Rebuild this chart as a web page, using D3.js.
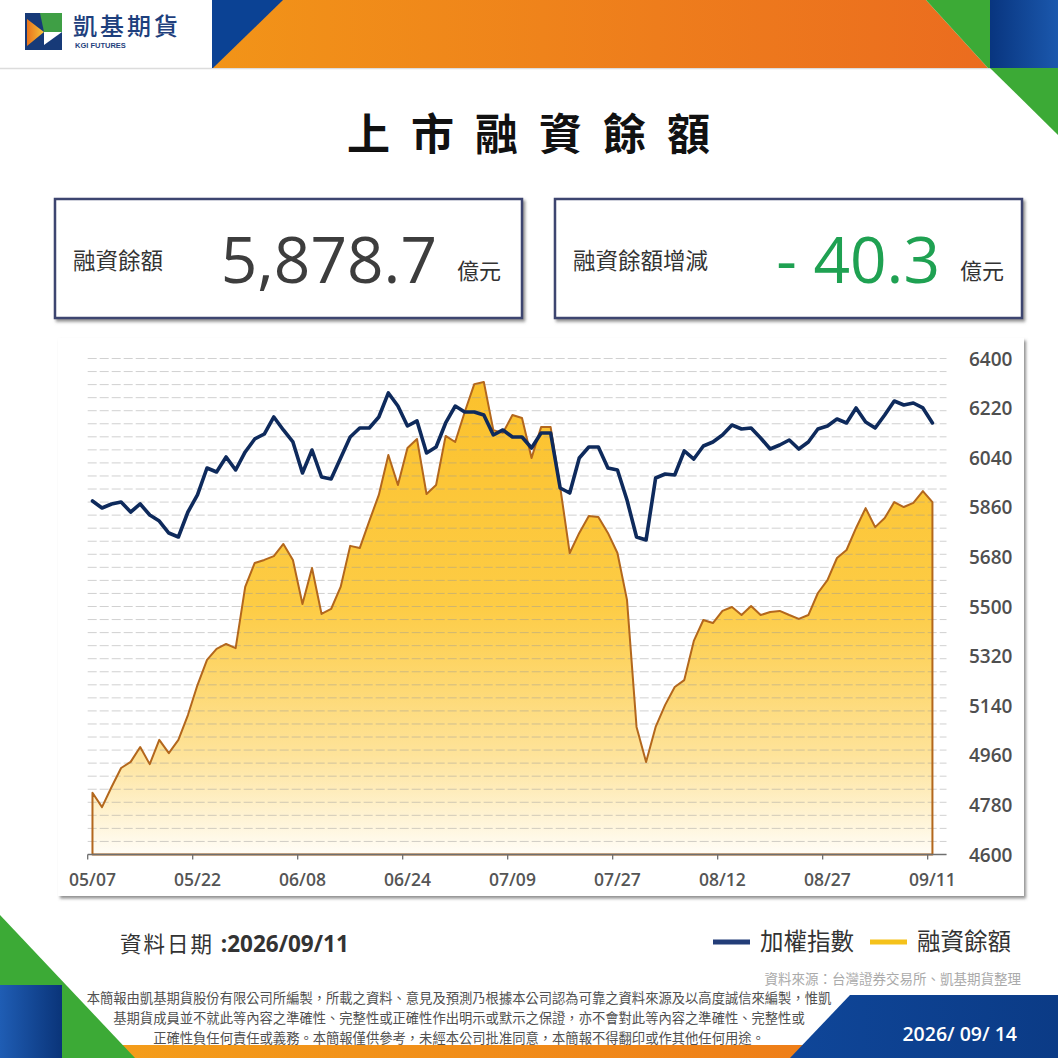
<!DOCTYPE html>
<html><head><meta charset="utf-8">
<script src="https://cdn.jsdelivr.net/npm/d3@7"></script>
<style>
html,body{margin:0;padding:0;background:#fff;}
svg{display:block;}
</style></head><body>
<svg id="c" width="1058" height="1058"></svg>
<script>
// ---------------- DATA ----------------
const dates = ["05/07","05/08","05/11","05/12","05/13","05/14","05/15","05/18","05/19","05/20","05/21","05/22","05/25","05/26","05/27","05/28","05/29",
"06/01","06/02","06/03","06/04","06/05","06/08","06/09","06/10","06/11","06/12","06/15","06/16","06/17","06/18","06/22","06/23","06/24","06/25","06/26","06/29","06/30",
"07/01","07/02","07/03","07/06","07/07","07/08","07/09","07/10","07/13","07/14","07/15","07/17","07/20","07/21","07/22","07/23","07/24","07/27","07/28","07/29","07/30","07/31",
"08/03","08/04","08/06","08/07","08/10","08/11","08/12","08/13","08/14","08/17","08/18","08/19","08/20","08/21","08/24","08/25","08/26","08/27","08/28","08/31",
"09/01","09/02","09/03","09/04","09/07","09/08","09/09","09/10","09/11"];

// 加權指數 (hidden left axis)
const indexValues = [24817,24709,24771,24801,24648,24771,24602,24510,24326,24265,24648,24909,25322,25261,25491,25292,25568,25767,25843,26104,25905,25721,25246,25598,25184,25154,25476,25797,25935,25935,26104,26472,26272,25966,26043,25552,25644,26012,26272,26180,26180,26134,25828,25905,25797,25797,25629,25859,25859,25016,24939,25476,25644,25644,25322,25292,24832,24265,24219,25169,25230,25215,25583,25460,25659,25721,25828,25981,25920,25935,25782,25613,25675,25751,25613,25721,25920,25966,26073,26012,26242,26027,25935,26134,26349,26288,26318,26242,26012];

// 融資餘額 (億元, right axis)
const marginValues = [4824,4772,4845,4914,4936,4990,4928,5016,4968,5016,5106,5215,5306,5346,5364,5349,5571,5658,5669,5683,5727,5669,5509,5640,5473,5491,5571,5720,5712,5810,5905,6050,5941,6075,6108,5908,5941,6119,6097,6206,6307,6315,6140,6130,6195,6184,6039,6151,6151,5934,5694,5767,5828,5825,5767,5694,5524,5063,4936,5063,5143,5208,5233,5375,5451,5440,5484,5498,5469,5502,5469,5480,5484,5469,5455,5469,5549,5596,5676,5705,5785,5857,5788,5821,5879,5861,5876,5919.0,5878.7];

const yTickValues = [4600,4780,4960,5140,5320,5500,5680,5860,6040,6220,6400];
const xTickLabels = ["05/07","05/22","06/08","06/24","07/09","07/27","08/12","08/27","09/11"];
const indexDomain = [19400, 27000];
const indexGridStep = 200;

const titleText = "上市融資餘額";
const seriesNames = ["加權指數","融資餘額"];
const dataDate = "2026/09/11";
const reportDate = "2026/ 09/ 14";

// ---------------- DRAW ----------------
const svg = d3.select("#c");
const W = 1058, H = 1058;
const CJK = "'Noto Sans CJK TC','Noto Sans CJK SC',sans-serif";
const NUM = "'Open Sans','Noto Sans',sans-serif";

const defs = svg.append("defs");
function lg(id, x1, y1, x2, y2, stops, user) {
  const g = defs.append("linearGradient").attr("id", id)
    .attr("x1", x1).attr("y1", y1).attr("x2", x2).attr("y2", y2);
  if (user) g.attr("gradientUnits", "userSpaceOnUse");
  stops.forEach(s => g.append("stop").attr("offset", s[0]).attr("stop-color", s[1]));
}
lg("orangeTop", "0%", "0%", "100%", "0%", [["0%", "#f29418"], ["100%", "#eb6c1f"]]);
lg("blueTop", "0%", "0%", "100%", "0%", [["0%", "#08357f"], ["100%", "#1b58ad"]]);
lg("blueBL", "0%", "0%", "100%", "0%", [["0%", "#1f5db4"], ["100%", "#0a3479"]]);
lg("blueBR", "0%", "0%", "100%", "0%", [["0%", "#0f4699"], ["100%", "#0b3b86"]]);
lg("orangeBot", "0%", "0%", "100%", "0%", [["0%", "#f5a21a"], ["100%", "#ee7d18"]]);
lg("logoOr", "0%", "0%", "100%", "0%", [["0%", "#e8731c"], ["100%", "#f6c43a"]]);

const sh = defs.append("filter").attr("id", "shadow").attr("x", "-5%").attr("y", "-5%").attr("width", "110%").attr("height", "115%");
sh.append("feDropShadow").attr("dx", 2).attr("dy", 2.5).attr("stdDeviation", 1.6)
  .attr("flood-color", "#6a6a6a").attr("flood-opacity", 0.75);

svg.append("rect").attr("width", W).attr("height", H).attr("fill", "#fff");

// header
svg.append("line").attr("x1", 0).attr("x2", W).attr("y1", 68.5).attr("y2", 68.5).attr("stroke", "#dcdcdc").attr("stroke-width", 1.5);
svg.append("polygon").attr("points", "212,0 926,0 988,68 212,68").attr("fill", "url(#orangeTop)");
svg.append("polygon").attr("points", "212,0 283,0 213,68 212,68").attr("fill", "#0b4294");
svg.append("polygon").attr("points", "926,0 990,0 990,68 988,68").attr("fill", "#3caa36");
svg.append("rect").attr("x", 990).attr("y", 0).attr("width", 68).attr("height", 68).attr("fill", "url(#blueTop)");
svg.append("polygon").attr("points", "990,68 1058,68 1058,135").attr("fill", "#3caa36");

// logo
const logo = svg.append("g");
logo.append("rect").attr("x", 25).attr("y", 13).attr("width", 37).attr("height", 37).attr("fill", "#173a78");
logo.append("polygon").attr("points", "40,13 62,13 62,32 44,32").attr("fill", "#3f9f45");
logo.append("polygon").attr("points", "27,19 44,32 27,46").attr("fill", "url(#logoOr)");
logo.append("polygon").attr("points", "44,32 62,32 44,45").attr("fill", "#ffffff");
svg.append("text").attr("x", 73).attr("y", 35).attr("font-family", CJK).attr("font-size", 24)
  .attr("font-weight", 500).attr("letter-spacing", 3).attr("fill", "#1e3f7d").text("凱基期貨");
svg.append("text").attr("x", 75).attr("y", 47.5).attr("font-family", "'Liberation Sans',Arial,sans-serif")
  .attr("font-size", 7.5).attr("font-weight", 700).attr("fill", "#1e3f7d").text("KGI FUTURES");

// title
svg.append("text").attr("x", 539).attr("y", 150).attr("text-anchor", "middle")
  .attr("font-family", CJK).attr("font-size", 43).attr("font-weight", 700)
  .attr("letter-spacing", 21).attr("fill", "#111").text(titleText);

// stat boxes
const latest = marginValues[marginValues.length - 1];
const change = latest - marginValues[marginValues.length - 2];
const boxes = [
  {x: 55, w: 467, label: "融資餘額", value: d3.format(",.1f")(latest), color: "#3d3d3d", vx: 437, ux: 457},
  {x: 555, w: 467, label: "融資餘額增減", value: (change < 0 ? "- " : "+ ") + d3.format(".1f")(Math.abs(change)), color: "#1fa152", vx: 940, ux: 960}
];
boxes.forEach(b => {
  svg.append("rect").attr("x", b.x).attr("y", 199).attr("width", b.w).attr("height", 119)
    .attr("fill", "#fff").attr("stroke", "#3d4570").attr("stroke-width", 2.5).attr("filter", "url(#shadow)");
  svg.append("text").attr("x", b.x + 18).attr("y", 269).attr("font-family", CJK).attr("font-size", 22.5)
    .attr("fill", "#333").text(b.label);
  svg.append("text").attr("x", b.vx).attr("y", 283).attr("text-anchor", "end").attr("font-family", NUM)
    .attr("font-size", 64).attr("font-weight", 500).attr("fill", b.color).text(b.value);
  svg.append("text").attr("x", b.ux).attr("y", 279).attr("font-family", CJK).attr("font-size", 22)
    .attr("fill", "#333").text("億元");
});

// chart panel
svg.append("rect").attr("x", 58).attr("y", 338).attr("width", 966).attr("height", 558)
  .attr("fill", "#fff").attr("filter", "url(#shadow)");

const plotL = 87.7, plotR = 946.5, plotT = 358.5, plotB = 854.5;
const step = 9.545;
const x = d3.scaleBand().domain(dates).range([plotL, plotL + dates.length * step]).paddingInner(0).paddingOuter(0);
const cx = d => x(d) + x.bandwidth() / 2;
const y = d3.scaleLinear().domain([yTickValues[0], yTickValues[yTickValues.length - 1]]).range([plotB, plotT]);
const yIdx = d3.scaleLinear().domain(indexDomain).range([plotB, plotT]);

lg("areaFill", 0, plotT, 0, plotB, [["0%", "#fbc02a"], ["50%", "#fdcc45"], ["80%", "#fee39a"], ["100%", "#fffdf7"]], true);

const marginData = dates.map((d, i) => ({d, v: marginValues[i]}));
const indexData = dates.map((d, i) => ({d, v: indexValues[i]}));

const area = d3.area().x(p => cx(p.d)).y0(plotB).y1(p => y(p.v));
svg.append("path").datum(marginData).attr("d", area).attr("fill", "url(#areaFill)");

// gridlines (from hidden index axis)
const gridVals = d3.range(indexDomain[0], indexDomain[1] + 1, indexGridStep);
svg.append("g").selectAll("line").data(gridVals).join("line")
  .attr("x1", plotL).attr("x2", plotR).attr("y1", d => yIdx(d)).attr("y2", d => yIdx(d))
  .attr("stroke", "#9a9a9a").attr("stroke-opacity", 0.45).attr("stroke-width", 1).attr("stroke-dasharray", "9,3");

svg.append("path").datum(marginData).attr("d", area).attr("fill", "none")
  .attr("stroke", "#b3671d").attr("stroke-width", 2).attr("stroke-linejoin", "round");

const line = d3.line().x(p => cx(p.d)).y(p => yIdx(p.v));
svg.append("path").datum(indexData).attr("d", line).attr("fill", "none")
  .attr("stroke", "#0e2a5c").attr("stroke-width", 3.6).attr("stroke-linejoin", "round").attr("stroke-linecap", "round");

// x axis
svg.append("line").attr("x1", plotL).attr("x2", plotR).attr("y1", plotB).attr("y2", plotB)
  .attr("stroke", "#6f6f6f").attr("stroke-width", 1.5);
svg.append("g").selectAll("line").data(xTickLabels).join("line")
  .attr("x1", d => x(d)).attr("x2", d => x(d)).attr("y1", plotB).attr("y2", plotB + 5)
  .attr("stroke", "#6f6f6f").attr("stroke-width", 1.3);
const xAxis = d3.axisBottom(x).tickValues(xTickLabels).tickSize(0).tickPadding(0);
const gx = svg.append("g").attr("transform", `translate(0,${plotB + 31})`).call(xAxis);
gx.select(".domain").remove();
gx.selectAll("text").attr("font-family", NUM).attr("font-size", 17.5).attr("font-weight", 600)
  .attr("fill", "#555").attr("dy", 0);

// right y axis
const yAxis = d3.axisRight(y).tickValues(yTickValues).tickSize(0).tickPadding(0).tickFormat(d3.format("d"));
const gy = svg.append("g").attr("transform", "translate(969,0)").call(yAxis);
gy.select(".domain").remove();
gy.selectAll("text").attr("font-family", NUM).attr("font-size", 19).attr("font-weight", 600)
  .attr("fill", "#4f4f4f").attr("dy", "0.35em");

// data date
const dd = svg.append("text").attr("x", 120).attr("y", 952).attr("fill", "#333");
dd.append("tspan").attr("font-family", CJK).attr("font-size", 21.5).attr("letter-spacing", 2).text("資料日期 ");
dd.append("tspan").attr("font-family", NUM).attr("font-size", 22.5).attr("font-weight", 700).text(":" + dataDate);

// legend
const legColors = ["#233d78", "#f5c21b"];
const legX = [713, 870];
seriesNames.forEach((n, i) => {
  svg.append("line").attr("x1", legX[i]).attr("x2", legX[i] + 37).attr("y1", 942).attr("y2", 942)
    .attr("stroke", legColors[i]).attr("stroke-width", 5);
  svg.append("text").attr("x", legX[i] + 47).attr("y", 950).attr("font-family", CJK).attr("font-size", 23.5)
    .attr("fill", "#333").text(n);
});

svg.append("text").attr("x", 1021).attr("y", 984).attr("text-anchor", "end").attr("font-family", CJK)
  .attr("font-size", 13.5).attr("fill", "#aaa").text("資料來源：台灣證券交易所、凱基期貨整理");

// bottom decorations
svg.append("rect").attr("x", 0).attr("y", 1045).attr("width", 830).attr("height", 13).attr("fill", "url(#orangeBot)");
svg.append("polygon").attr("points", "0,915 135,1058 0,1058").attr("fill", "#3caa36");
svg.append("rect").attr("x", 0).attr("y", 985).attr("width", 62).attr("height", 73).attr("fill", "url(#blueBL)");
svg.append("polygon").attr("points", "850,995 1058,995 1058,1058 790,1058").attr("fill", "url(#blueBR)");
svg.append("text").attr("x", 1017).attr("y", 1041).attr("text-anchor", "end").attr("font-family", NUM)
  .attr("font-size", 19.5).attr("font-weight", 600).attr("fill", "#fff").text(reportDate);

// disclaimer
const disc = [
  "本簡報由凱基期貨股份有限公司所編製，所載之資料、意見及預測乃根據本公司認為可靠之資料來源及以高度誠信來編製，惟凱",
  "基期貨成員並不就此等內容之準確性、完整性或正確性作出明示或默示之保證，亦不會對此等內容之準確性、完整性或",
  "正確性負任何責任或義務。本簡報僅供參考，未經本公司批准同意，本簡報不得翻印或作其他任何用途。"
];
svg.append("g").selectAll("text").data(disc).join("text")
  .attr("x", 459).attr("y", (d, i) => 1003 + i * 20).attr("text-anchor", "middle")
  .attr("font-family", CJK).attr("font-size", 13.3).attr("fill", "#505050").text(d => d);
</script>
</body></html>
